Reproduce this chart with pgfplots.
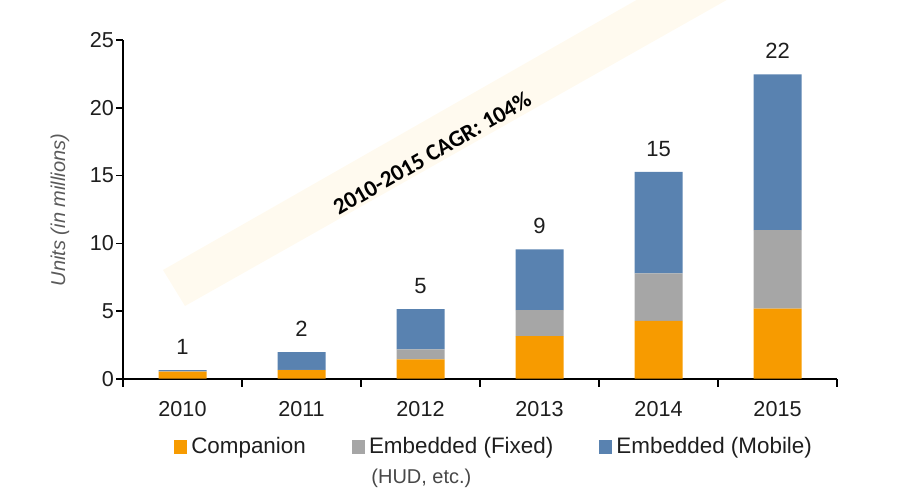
\documentclass[border=0pt]{standalone}
\usepackage{pgfplots}
\pgfplotsset{compat=1.18}
\usepackage{fontspec}
\setmainfont{Liberation Sans}
\newfontfamily\calibri{Carlito}
\definecolor{compOrange}{RGB}{247,155,0}
\definecolor{fixGray}{RGB}{166,166,166}
\definecolor{mobBlue}{RGB}{89,130,176}
\definecolor{bandCream}{RGB}{255,250,239}
\definecolor{txtDark}{RGB}{30,30,30}
\definecolor{lblGray}{RGB}{90,90,90}

\begin{document}
\begin{tikzpicture}
% reference pixel grid: 1px = 0.5bp, origin top left, axis origin at px (123,378.7)
\begin{scope}[shift={(-61.5bp,189.35bp)},x=0.5bp,y=-0.5bp]
  \useasboundingbox (0,0) rectangle (897,500);
  \fill[bandCream] (163,270) -- (185,306) -- (1148,-238) -- (1124,-278) -- cycle;
  \node[rotate=30,font=\calibri\bfseries\fontsize{11.6bp}{13bp}\selectfont] at (432,153) {2010-2015 CAGR: 104\%};
\end{scope}

\begin{axis}[
  at={(0,0)}, anchor=south west, scale only axis,
  width=357bp, height=169.2bp,
  ybar stacked, bar width=24bp,
  xmin=-0.5, xmax=5.5, ymin=0, ymax=25,
  axis lines*=left,
  axis line style={line width=0.8bp, black},
  xtick={0,1,2,3,4,5},
  xticklabels={2010,2011,2012,2013,2014,2015},
  minor xtick={-0.5,0.5,1.5,2.5,3.5,4.5,5.5},
  ytick={0,5,10,15,20,25},
  tick align=outside,
  major tick length=3.5bp, minor tick length=4bp,
  every tick/.style={black, line width=0.8bp},
  major x tick style={draw=none},
  ticklabel style={font=\fontsize{10.8bp}{12bp}\selectfont, text=txtDark},
  xticklabel style={yshift=-4.5bp},
  yticklabel style={xshift=2.5bp},
  /pgf/number format/assume math mode=true,
  legend columns=3,
  legend style={draw=none, fill=none, at={(axis description cs:0.5,0)}, anchor=center,
    yshift=-34.15bp, xshift=7.5bp, font=\fontsize{11.2bp}{13bp}\selectfont, text=txtDark,
    /tikz/every even column/.append style={column sep=21bp}},
  legend image code/.code={\fill[#1] (0bp,-3.3bp) rectangle (6.6bp,3.3bp);},
]
\addplot[fill=compOrange, draw=none] coordinates {(0,0.52) (1,0.64) (2,1.43) (3,3.15) (4,4.28) (5,5.17)};
\addplot[fill=fixGray, draw=none] coordinates {(0,0.02) (1,0.02) (2,0.74) (3,1.92) (4,3.50) (5,5.80)};
% totals above each stack: node sits mid-segment, so lift it by half the segment
\addplot[fill=mobBlue, draw=none, point meta=explicit symbolic,
  visualization depends on={rawy \as \segh},
  nodes near coords,
  nodes near coords style={anchor=south, inner sep=0pt, yshift={\segh*3.384bp+7.5bp},
    font=\fontsize{11bp}{13bp}\selectfont, text=txtDark}]
  coordinates {(0,0.10) [1] (1,1.30) [2] (2,2.97) [5] (3,4.48) [9] (4,7.50) [15] (5,11.52) [22]};
\legend{Companion, Embedded (Fixed), Embedded (Mobile)}
\end{axis}

\begin{scope}[shift={(-61.5bp,189.35bp)},x=0.5bp,y=-0.5bp]
  \node[rotate=90, font=\itshape\fontsize{10bp}{12bp}\selectfont, text=lblGray] at (60,210) {Units (in millions)};
  \node[anchor=west, inner sep=0pt, font=\fontsize{10bp}{12bp}\selectfont, text=lblGray!80!black] at (371,478) {(HUD, etc.)};
\end{scope}
\end{tikzpicture}
\end{document}
